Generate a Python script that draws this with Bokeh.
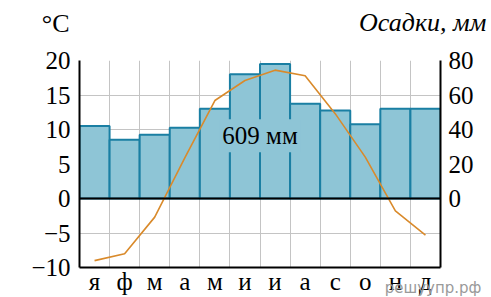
from bokeh.plotting import figure
from bokeh.models import (Range1d, LinearAxis, FixedTicker, Span, Label,
                          ColumnDataSource)
from bokeh.embed import file_html
from bokeh.resources import INLINE

months = ["я", "ф", "м", "а", "м", "и", "и", "а", "с", "о", "н", "д"]
month_idx = list(range(1, 13))
precip_mm = [42, 34, 37, 41, 52, 72, 78, 55, 51, 43, 52, 52]
temp_c = [-9.0, -8.0, -2.7, 5.9, 14.2, 17.1, 18.6, 17.8, 12.3, 6.0, -1.8, -5.3]
temp_ticks = [-10, -5, 0, 5, 10, 15, 20]
precip_ticks = [0, 20, 40, 60, 80]
total_label = "609 мм"

SERIF = "Liberation Serif"
FS = "25px"
BAR_FILL = "#8ec5d6"
BAR_LINE = "#1a7fa3"
LINE_COL = "#d98a2b"

p = figure(width=491, height=297, output_backend="svg", toolbar_location=None,
           x_range=Range1d(0.5, 12.5), y_range=Range1d(-10, 20),
           min_border_left=77, min_border_right=51, min_border_top=60, min_border_bottom=28)
p.outline_line_color = None
p.background_fill_color = "white"
p.border_fill_color = "white"
p.extra_y_ranges = {"precip": Range1d(-40, 80)}

p.xgrid.ticker = FixedTicker(ticks=[m + 0.5 for m in month_idx[:-1]])
p.ygrid.ticker = FixedTicker(ticks=temp_ticks)
p.xgrid.grid_line_color = "#c4c4c4"
p.ygrid.grid_line_color = "#c4c4c4"

for ax in (p.yaxis[0], p.xaxis[0]):
    ax.major_tick_out = 0
    ax.major_tick_in = 0
    ax.minor_tick_out = 0
    ax.minor_tick_in = 0
    ax.axis_line_width = 2
    ax.axis_line_color = "black"
    ax.major_label_text_font = SERIF
    ax.major_label_text_font_size = FS
    ax.major_label_text_color = "black"

p.yaxis.ticker = FixedTicker(ticks=temp_ticks)
p.yaxis.major_label_overrides = {t: str(t).replace("-", "\u2212") for t in temp_ticks}
p.yaxis.major_label_standoff = 9

p.xaxis.ticker = FixedTicker(ticks=month_idx)
p.xaxis.major_label_overrides = {i: m for i, m in zip(month_idx, months)}
p.xaxis.major_label_standoff = 0

ra = LinearAxis(y_range_name="precip", ticker=FixedTicker(ticks=precip_ticks))
ra.major_tick_out = 0
ra.major_tick_in = 0
ra.minor_tick_out = 0
ra.minor_tick_in = 0
ra.axis_line_width = 2
ra.axis_line_color = "black"
ra.major_label_text_font = SERIF
ra.major_label_text_font_size = FS
ra.major_label_text_color = "black"
ra.major_label_standoff = 8
p.add_layout(ra, "right")

src = ColumnDataSource(dict(x=month_idx, top=precip_mm, t=temp_c))
p.vbar(x="x", top="top", bottom=0, width=1.0, source=src, y_range_name="precip",
       fill_color=BAR_FILL, line_color=BAR_LINE, line_width=2)
p.add_layout(Span(location=0, dimension="width", line_color="black", line_width=2))
p.line(x="x", y="t", source=src, line_color=LINE_COL, line_width=1.6)

p.add_layout(Label(x=6.5, y=9.1, text=total_label, text_align="center",
                   text_baseline="middle", text_font=SERIF, text_font_size=FS,
                   text_color="black", background_fill_color=BAR_FILL, padding=3))

# axis titles and watermark placed in side panels (not clipped by the frame)
p.add_layout(Label(x=0.17, y=25.4, text="°C", text_align="right",
                   text_baseline="alphabetic", text_font=SERIF,
                   text_font_size="26px", text_color="black"), "left")
p.add_layout(Label(x=14.02, y=25.5, text="Осадки, мм", text_align="right",
                   text_baseline="alphabetic", text_font=SERIF,
                   text_font_style="italic", text_font_size="26px", text_color="black"), "above")
p.add_layout(Label(x=13.86, y=-13.0, text="решуупр.рф", text_align="right",
                   text_baseline="alphabetic", text_font="DejaVu Sans",
                   text_font_size="15px", text_color="#9a9a9a"), "above")

open("out.html", "w").write(file_html(p, INLINE))
